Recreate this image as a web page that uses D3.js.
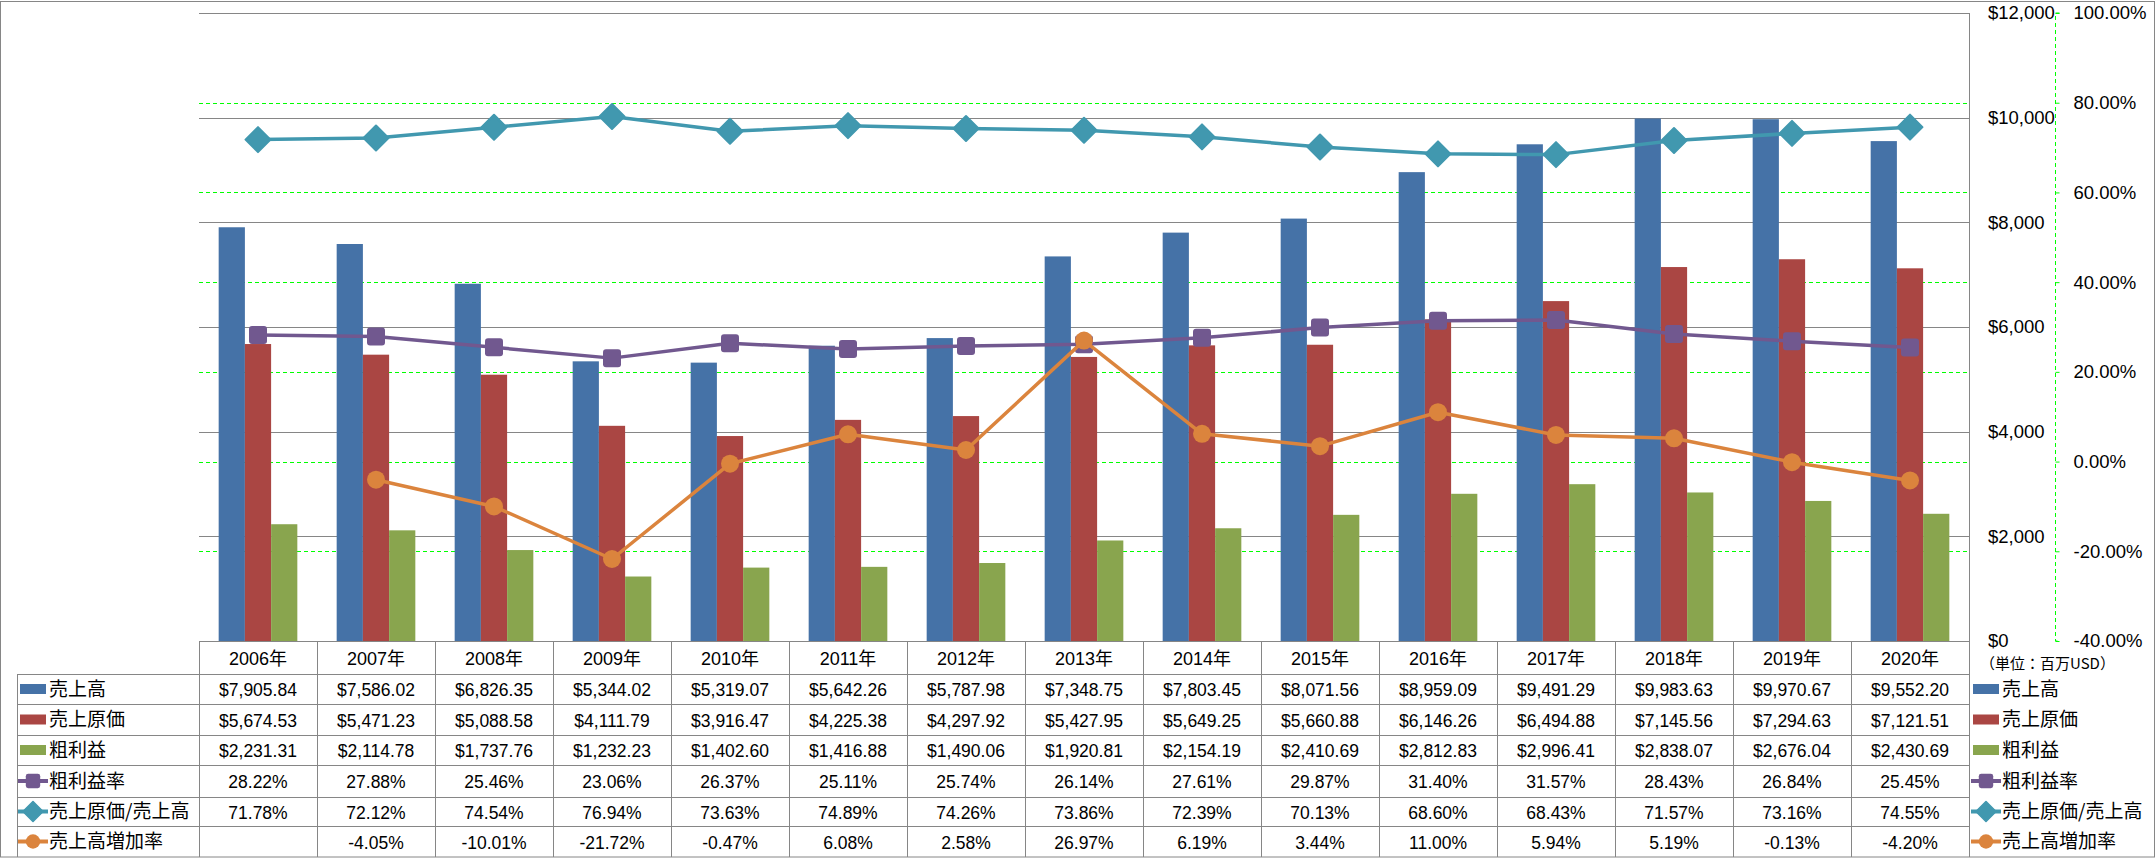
<!DOCTYPE html>
<html><head><meta charset="utf-8">
<script src="https://cdn.jsdelivr.net/npm/d3@7"></script>
<style>
body{margin:0;background:#fff;}
svg{display:block;}
text{font-family:"Liberation Sans","Noto Sans CJK JP",sans-serif;fill:#000;}
.jp{font-family:"Noto Sans CJK JP",sans-serif;}
</style></head>
<body>
<svg id="c" width="2156" height="858"></svg>
<script>
const years = ["2006年","2007年","2008年","2009年","2010年","2011年","2012年","2013年","2014年","2015年","2016年","2017年","2018年","2019年","2020年"];
const sales = [7905.84,7586.02,6826.35,5344.02,5319.07,5642.26,5787.98,7348.75,7803.45,8071.56,8959.09,9491.29,9983.63,9970.67,9552.20];
const cogs = [5674.53,5471.23,5088.58,4111.79,3916.47,4225.38,4297.92,5427.95,5649.25,5660.88,6146.26,6494.88,7145.56,7294.63,7121.51];
const gross = [2231.31,2114.78,1737.76,1232.23,1402.60,1416.88,1490.06,1920.81,2154.19,2410.69,2812.83,2996.41,2838.07,2676.04,2430.69];
const grossRate = [28.22,27.88,25.46,23.06,26.37,25.11,25.74,26.14,27.61,29.87,31.40,31.57,28.43,26.84,25.45];
const cogsRatio = [71.78,72.12,74.54,76.94,73.63,74.89,74.26,73.86,72.39,70.13,68.60,68.43,71.57,73.16,74.55];
const growth = [null,-4.05,-10.01,-21.72,-0.47,6.08,2.58,26.97,6.19,3.44,11.00,5.94,5.19,-0.13,-4.20];
const leftTicks = [0,2000,4000,6000,8000,10000,12000];
const rightTicks = [-40,-20,0,20,40,60,80,100];
const unitLabel = "（単位：百万USD）";

const barSeries = [
  {name:"売上高", values:sales, color:"#4572A7"},
  {name:"売上原価", values:cogs, color:"#AA4643"},
  {name:"粗利益", values:gross, color:"#89A54E"}
];
const lineSeries = [
  {name:"粗利益率", values:grossRate, color:"#71588F", marker:"square"},
  {name:"売上原価/売上高", values:cogsRatio, color:"#4198AF", marker:"diamond"},
  {name:"売上高増加率", values:growth, color:"#DB843D", marker:"circle"}
];

const loc = d3.formatLocale({decimal:".",thousands:",",grouping:[3],currency:["$",""],minus:"-"});
const fMoney = loc.format("$,.2f");
const fAxis = loc.format("$,.0f");
const fPct = v => v==null ? "" : loc.format(".2f")(v) + "%";

const svg = d3.select("#c");
const W=2156,H=858;
const L=199,R=1969,T=13,B=641;
const gridColor="#868686";

svg.append("rect").attr("x",0).attr("y",0).attr("width",W).attr("height",H).attr("fill","#fff");

const x = d3.scaleBand().domain(years).range([L,R]).padding(0);
const x1 = d3.scaleBand().domain(barSeries.map(s=>s.name)).range([0,x.bandwidth()]).paddingInner(0).paddingOuter(0.75);
const yL = d3.scaleLinear().domain([0,12000]).range([B,T]);
const yR = d3.scaleLinear().domain([-40,100]).range([B,T]);

// gray gridlines
svg.append("g").selectAll("line").data(leftTicks).join("line")
  .attr("x1",L).attr("x2",R).attr("y1",d=>Math.round(yL(d))+0.5).attr("y2",d=>Math.round(yL(d))+0.5)
  .attr("stroke",gridColor).attr("stroke-width",1);
// green dashed gridlines
svg.append("g").selectAll("line").data(rightTicks.filter(d=>d>-40&&d<100)).join("line")
  .attr("x1",L).attr("x2",R).attr("y1",d=>Math.round(yR(d))+0.5).attr("y2",d=>Math.round(yR(d))+0.5)
  .attr("stroke","#00FF00").attr("stroke-width",1).attr("stroke-dasharray","4,3");

// bars
barSeries.forEach(s=>{
  svg.append("g").selectAll("rect").data(s.values).join("rect")
    .attr("x",(d,i)=>x(years[i])+x1(s.name))
    .attr("width",x1.bandwidth())
    .attr("y",d=>yL(d)).attr("height",d=>B-yL(d))
    .attr("fill",s.color);
});

// lines
function drawMarker(g, type, cx, cy, color, scale){
  const k = scale||1;
  if(type==="square"){
    const s=18*k;
    g.append("rect").attr("x",cx-s/2).attr("y",cy-s/2).attr("width",s).attr("height",s).attr("rx",3*k).attr("fill",color);
  } else if(type==="diamond"){
    const r=12.5*k;
    g.append("path").attr("d",`M${cx},${cy-r}L${cx+r},${cy}L${cx},${cy+r}L${cx-r},${cy}Z`).attr("fill",color).attr("stroke",color).attr("stroke-width",2*k).attr("stroke-linejoin","round");
  } else {
    g.append("circle").attr("cx",cx).attr("cy",cy).attr("r",9*k).attr("fill",color);
  }
}
lineSeries.forEach(s=>{
  const g = svg.append("g");
  const line = d3.line().defined(d=>d!=null).x((d,i)=>x(years[i])+x.bandwidth()/2).y(d=>yR(d));
  g.append("path").datum(s.values).attr("d",line).attr("fill","none").attr("stroke",s.color).attr("stroke-width",3.5).attr("stroke-linejoin","round");
  s.values.forEach((v,i)=>{ if(v!=null) drawMarker(g,s.marker,x(years[i])+x.bandwidth()/2,yR(v),s.color); });
});

// plot right border
svg.append("line").attr("x1",R+0.5).attr("x2",R+0.5).attr("y1",T).attr("y2",857).attr("stroke",gridColor);

// left value axis (labels on right side)
const axL = svg.append("g").attr("transform",`translate(${R},0)`)
  .call(d3.axisRight(yL).tickValues(leftTicks).tickSize(0).tickPadding(19).tickFormat(fAxis));
axL.select(".domain").remove();
axL.selectAll("text").attr("font-size",18.5).attr("font-family",null).style("font-family","'Liberation Sans',sans-serif").attr("fill","#000");

// right percent axis
const axR = svg.append("g").attr("transform",`translate(2055.5,0)`)
  .call(d3.axisRight(yR).tickValues(rightTicks).tickSize(4).tickPadding(14).tickFormat(d=>fPct(d)));
axR.select(".domain").attr("stroke","#00FF00").attr("stroke-dasharray","4,3").attr("d",`M4,${T}H0V${B}H4`);
axR.selectAll(".tick line").attr("stroke","#00FF00");
axR.selectAll("text").attr("font-size",18.5).attr("font-family",null).style("font-family","'Liberation Sans',sans-serif")
  .attr("fill",d=>d<0?"#FF0000":"#000");

// unit label
svg.append("text").attr("class","jp").attr("x",1980).attr("y",664).attr("dy","0.35em").attr("font-size",15).text(unitLabel);

// table
const rowY = [641,674,704,735,765,797,826,857];
const tbl = svg.append("g");
tbl.selectAll("line.h").data(rowY.slice(1,7)).join("line")
  .attr("x1",17).attr("x2",R).attr("y1",d=>d+0.5).attr("y2",d=>d+0.5).attr("stroke",gridColor);
const colX = years.map(y=>x(y));
tbl.selectAll("line.v").data(colX).join("line")
  .attr("x1",d=>Math.round(d)+0.5).attr("x2",d=>Math.round(d)+0.5).attr("y1",641).attr("y2",857).attr("stroke",gridColor);
tbl.append("line").attr("x1",17.5).attr("x2",17.5).attr("y1",674).attr("y2",857).attr("stroke",gridColor);

// header text
tbl.selectAll("text.yr").data(years).join("text")
  .attr("x",d=>x(d)+x.bandwidth()/2).attr("y",(rowY[0]+rowY[1])/2+1).attr("dy","0.35em")
  .attr("text-anchor","middle").attr("font-size",18).text(d=>d);

const rows = [
  {s:barSeries[0], fmt:fMoney, kind:"bar"},
  {s:barSeries[1], fmt:fMoney, kind:"bar"},
  {s:barSeries[2], fmt:fMoney, kind:"bar"},
  {s:lineSeries[0], fmt:fPct, kind:"line"},
  {s:lineSeries[1], fmt:fPct, kind:"line"},
  {s:lineSeries[2], fmt:fPct, kind:"line"}
];
function legendKey(g, r, x0, cy){
  if(r.kind==="bar"){
    g.append("rect").attr("x",x0).attr("y",cy-5).attr("width",26).attr("height",10).attr("fill",r.s.color);
  } else {
    g.append("line").attr("x1",x0-2).attr("x2",x0+28).attr("y1",cy).attr("y2",cy).attr("stroke",r.s.color).attr("stroke-width",4);
    drawMarker(g,r.s.marker,x0+13,cy,r.s.color,0.8);
  }
}
rows.forEach((r,ri)=>{
  const cy = (rowY[ri+1]+rowY[ri+2])/2;
  const g = tbl.append("g");
  legendKey(g,r,20,cy);
  g.append("text").attr("class","jp").attr("x",49).attr("y",cy).attr("dy","0.36em").attr("font-size",19).text(r.s.name);
  g.selectAll("text.v").data(r.s.values).join("text")
    .attr("x",(d,i)=>x(years[i])+x.bandwidth()/2).attr("y",cy+1).attr("dy","0.35em")
    .attr("text-anchor","middle").attr("font-size",17.5).text(d=>r.fmt(d));
  legendKey(g,r,1973,cy);
  g.append("text").attr("class","jp").attr("x",2002).attr("y",cy).attr("dy","0.36em").attr("font-size",19).text(r.s.name);
});

// outer border
svg.append("rect").attr("x",0.5).attr("y",1.5).attr("width",2154).attr("height",855.5).attr("fill","none").attr("stroke",gridColor);
</script>
</body></html>
